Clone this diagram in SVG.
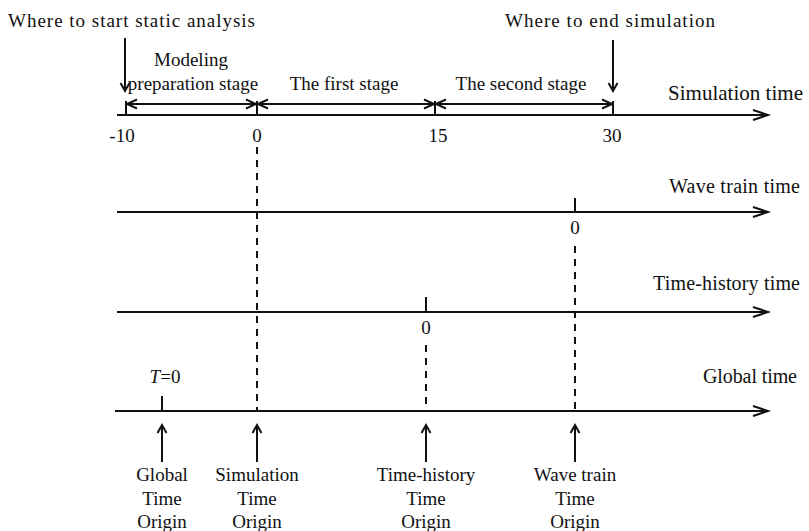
<svg xmlns="http://www.w3.org/2000/svg" width="809" height="531" viewBox="0 0 809 531">
<style>
text{font-family:"Liberation Serif","Times New Roman",serif;font-size:19px;fill:#111}
.c{text-anchor:middle}
.ax{stroke:#111;stroke-width:2;fill:none}
.tk{stroke:#111;stroke-width:2;fill:none}
.dash{stroke:#111;stroke-width:2;stroke-dasharray:7 6;fill:none}
.st{stroke:#111;stroke-width:2;fill:none}
.ar{stroke:#111;stroke-width:2;fill:none}
</style>
<defs>
<marker id="axh" markerUnits="userSpaceOnUse" markerWidth="18" markerHeight="14" refX="15" refY="6" orient="auto" overflow="visible">
<path d="M0,1 L15,6 L0,11" fill="none" stroke="#111" stroke-width="2"/>
</marker>
<marker id="sth" markerUnits="userSpaceOnUse" markerWidth="12" markerHeight="10" refX="10" refY="4.5" orient="auto-start-reverse" overflow="visible">
<path d="M0,0 L10,4.5 L0,9" fill="none" stroke="#111" stroke-width="2"/>
</marker>
<marker id="vh" markerUnits="userSpaceOnUse" markerWidth="10" markerHeight="12" refX="8" refY="4.5" orient="auto" overflow="visible">
<path d="M0,0 L8,4.5 L0,9" fill="none" stroke="#111" stroke-width="2"/>
</marker>
</defs>

<g id="connectors">
<line class="ax" x1="117" y1="115" x2="768" y2="115" marker-end="url(#axh)"/>
<line class="ax" x1="117" y1="212" x2="768" y2="212" marker-end="url(#axh)"/>
<line class="ax" x1="117" y1="312" x2="768" y2="312" marker-end="url(#axh)"/>
<line class="ax" x1="115" y1="411" x2="768" y2="411" marker-end="url(#axh)"/>
<line class="tk" x1="126" y1="101" x2="126" y2="115"/>
<line class="tk" x1="257" y1="101" x2="257" y2="115"/>
<line class="tk" x1="435" y1="101" x2="435" y2="115"/>
<line class="tk" x1="613" y1="101" x2="613" y2="115"/>
<line class="tk" x1="575" y1="198" x2="575" y2="212"/>
<line class="tk" x1="426" y1="297" x2="426" y2="312"/>
<line class="tk" x1="162" y1="396" x2="162" y2="411"/>
<line class="st" x1="127" y1="104" x2="256" y2="104" marker-start="url(#sth)" marker-end="url(#sth)"/>
<line class="st" x1="258" y1="104" x2="434" y2="104" marker-start="url(#sth)" marker-end="url(#sth)"/>
<line class="st" x1="436" y1="104" x2="612" y2="104" marker-start="url(#sth)" marker-end="url(#sth)"/>
<line class="dash" x1="257" y1="147" x2="257" y2="411"/>
<line class="dash" x1="575" y1="246" x2="575" y2="411"/>
<line class="dash" x1="426" y1="345" x2="426" y2="411"/>
<line class="ar" x1="125" y1="38" x2="125" y2="91" marker-end="url(#vh)"/>
<line class="ar" x1="613" y1="40" x2="613" y2="91" marker-end="url(#vh)"/>
<line class="ar" x1="162" y1="462" x2="162" y2="425" marker-end="url(#vh)"/>
<line class="ar" x1="257" y1="462" x2="257" y2="425" marker-end="url(#vh)"/>
<line class="ar" x1="426" y1="462" x2="426" y2="425" marker-end="url(#vh)"/>
<line class="ar" x1="575" y1="462" x2="575" y2="425" marker-end="url(#vh)"/>
</g>

<g id="top-labels">
<text x="8" y="27" textLength="247" lengthAdjust="spacing">Where to start static analysis</text>
<text x="505" y="27" textLength="210" lengthAdjust="spacing">Where to end simulation</text>
</g>

<g id="stage-labels">
<text class="c" x="191" y="66">Modeling</text>
<text class="c" x="193" y="90">preparation stage</text>
<text class="c" x="344" y="90">The first stage</text>
<text class="c" x="521" y="90">The second stage</text>
</g>

<g id="simulation-axis">
<text x="668" y="100" style="font-size:21px" textLength="135" lengthAdjust="spacing">Simulation time</text>
<text class="c" x="122" y="142">-10</text>
<text class="c" x="257" y="142">0</text>
<text class="c" x="438" y="142">15</text>
<text class="c" x="612" y="142">30</text>
</g>

<g id="wave-train-axis">
<text x="669" y="193" style="font-size:20px" textLength="131" lengthAdjust="spacing">Wave train time</text>
<text class="c" x="575" y="234">0</text>
</g>

<g id="time-history-axis">
<text x="653" y="290" style="font-size:20px" textLength="147" lengthAdjust="spacing">Time-history time</text>
<text class="c" x="426" y="334">0</text>
</g>

<g id="global-axis">
<text x="703" y="383" style="font-size:20px" textLength="94" lengthAdjust="spacing">Global time</text>
<text class="c" x="165" y="383"><tspan font-style="italic">T</tspan>=0</text>
</g>

<g id="global-origin">
<text class="c" x="162" y="481">Global</text>
<text class="c" x="162" y="505">Time</text>
<text class="c" x="162" y="528">Origin</text>
</g>
<g id="simulation-origin">
<text class="c" x="257" y="481">Simulation</text>
<text class="c" x="257" y="505">Time</text>
<text class="c" x="257" y="528">Origin</text>
</g>
<g id="time-history-origin">
<text class="c" x="426" y="481">Time-history</text>
<text class="c" x="426" y="505">Time</text>
<text class="c" x="426" y="528">Origin</text>
</g>
<g id="wave-train-origin">
<text class="c" x="575" y="481">Wave train</text>
<text class="c" x="575" y="505">Time</text>
<text class="c" x="575" y="528">Origin</text>
</g>
</svg>
